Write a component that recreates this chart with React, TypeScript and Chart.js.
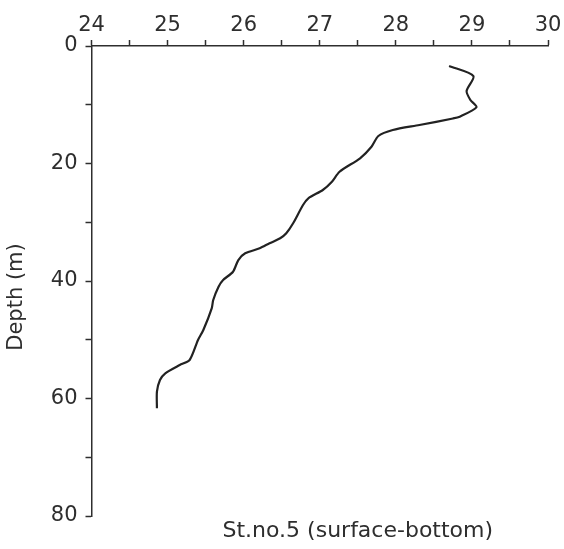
import React, { useEffect, useRef } from "react";
import { Chart, registerables } from "chart.js";

Chart.register(...registerables);

// Temperature (°C) and depth (m) profile, St.no.5
const temperature = [
  28.7, 29.02, 28.93, 28.98, 29.06, 28.84, 28.75, 28.31, 27.96, 27.77, 27.68, 27.53,
  27.26, 27.16, 27.04, 26.85, 26.78, 26.65, 26.56, 26.48, 26.34, 26.21, 26.02, 25.93,
  25.86, 25.73, 25.67, 25.6, 25.58, 25.47, 25.4, 25.29, 25.16, 24.97, 24.9, 24.86, 24.86,
];
const depth = [
  3.4, 5.11, 7.66, 9.19, 10.43, 12.03, 12.34, 13.45, 14.3, 15.32, 17.14, 19.11,
  21.4, 23.1, 24.51, 25.92, 27.06, 30.18, 31.88, 32.73, 33.58, 34.43, 35.29, 36.43,
  38.42, 39.83, 40.97, 43.23, 44.65, 48.34, 50.04, 53.45, 54.3, 55.71, 56.85, 58.84, 61.67,
];
const xTickMin = 24;
const xTickMax = 30;
const yTickMin = 0;
const yTickMax = 80;
const yAxisTitle = "Depth (m)";
const bottomTitle = "St.no.5 (surface-bottom)";

const FONT = "'DejaVu Sans', sans-serif";
const INK = "#2e2e2e";

export default function App() {
  const ref = useRef<HTMLCanvasElement | null>(null);
  useEffect(() => {
    if (!ref.current) return;
    const points = temperature.map((t, i) => ({ x: t, y: depth[i] }));
    const titlesPlugin = {
      id: "titles",
      afterDraw(chart: any) {
        const ctx = chart.ctx;
        const area = chart.chartArea;
        ctx.save();
        ctx.fillStyle = INK;
        ctx.textAlign = "center";
        ctx.textBaseline = "middle";
        ctx.save();
        ctx.font = `21px ${FONT}`;
        ctx.translate(17, (area.top + area.bottom) / 2 + 16);
        ctx.rotate(-Math.PI / 2);
        ctx.fillText(yAxisTitle, 0, 0);
        ctx.restore();
        ctx.font = `22px ${FONT}`;
        const xs = chart.scales.x;
        ctx.fillText(bottomTitle, xs.getPixelForValue(27.5), area.bottom + 15);
        ctx.restore();
      },
    };
    const chart = new Chart(ref.current, {
      type: "scatter",
      data: {
        datasets: [
          {
            data: points,
            showLine: true,
            borderColor: "#222222",
            borderWidth: 2.2,
            pointRadius: 0,
            tension: 0.25,
            fill: false,
          },
        ],
      },
      options: {
        animation: false,
        responsive: true,
        maintainAspectRatio: false,
        layout: { padding: { left: 0, top: 0, right: 16, bottom: 33 } },
        plugins: { legend: { display: false }, tooltip: { enabled: false } },
        scales: {
          x: {
            type: "linear",
            position: "top",
            min: xTickMin,
            max: xTickMax,
            afterFit: (s: any) => {
              s.height = 46;
            },
            ticks: {
              stepSize: 0.5,
              autoSkip: false,
              maxRotation: 0,
              padding: 2,
              color: INK,
              font: { family: FONT, size: 21 },
              callback: (v: any) => (Number.isInteger(v) ? String(v) : ""),
            },
            grid: {
              drawOnChartArea: false,
              drawTicks: true,
              tickLength: 6,
              tickColor: INK,
              tickWidth: 1.5,
            },
            border: { display: true, color: INK, width: 1.5 },
          },
          y: {
            type: "linear",
            reverse: true,
            min: yTickMin,
            max: yTickMax,
            afterFit: (s: any) => {
              s.width = 91.5;
            },
            ticks: {
              stepSize: 10,
              autoSkip: false,
              padding: 8,
              color: INK,
              font: { family: FONT, size: 21 },
              callback: (v: any) => (v % 20 === 0 ? String(v) : ""),
            },
            grid: {
              drawOnChartArea: false,
              drawTicks: true,
              tickLength: 6,
              tickColor: INK,
              tickWidth: 1.5,
            },
            border: { display: true, color: INK, width: 1.5 },
          },
        },
      },
      plugins: [titlesPlugin],
    });
    return () => chart.destroy();
  }, []);
  return (
    <div style={{ position: "fixed", left: 0, top: 0, width: 564, height: 549, background: "#fff" }}>
      <canvas ref={ref} />
    </div>
  );
}
